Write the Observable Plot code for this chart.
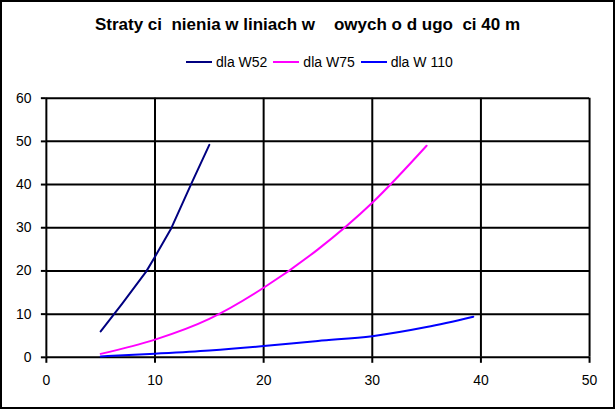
<!DOCTYPE html>
<html>
<head>
<meta charset="utf-8">
<script src="https://cdn.jsdelivr.net/npm/d3@7"></script>
<script src="https://cdn.jsdelivr.net/npm/@observablehq/plot@0.6"></script>
<style>
  html, body { margin: 0; padding: 0; background: #fff; }
  #wrap { position: relative; width: 615px; height: 409px; box-sizing: border-box; border: 2px solid #000; overflow: hidden; font-family: "Liberation Sans", Arial, sans-serif; }
  #chart { position: absolute; left: -2px; top: -2px; }
  #title { position: absolute; left: 0; top: 13px; width: 611px; text-align: center; font-weight: bold; font-size: 17px; white-space: pre; color: #000; }
  #legend { position: absolute; left: 184px; top: 52px; display: flex; align-items: center; font-size: 14px; white-space: pre; color: #000; }
  .sw { display: inline-block; width: 26px; height: 2px; margin-right: 4px; }
  .item { display: flex; align-items: center; margin-right: 6px; }
</style>
</head>
<body>
<div id="wrap">
  <div id="chart"></div>
  <div id="title"></div>
  <div id="legend"></div>
</div>
<script>
const title = "Straty ci\u00a0\u00a0nienia w liniach w\u00a0\u00a0\u00a0\u00a0owych o d ugo\u00a0\u00a0ci 40 m";
const seriesNames = ["dla W52", "dla W75", "dla W 110"];
const seriesColors = ["#000080", "#FF00FF", "#0000FF"];

const xW52 = [5, 7, 9.2, 10, 11.5, 13.4, 15];
const yW52 = [6, 12.5, 19.9, 23.3, 29.9, 40.5, 49.2];
const xW75 = [5, 10, 15, 20, 25, 30, 35];
const yW75 = [0.8, 4.1, 8.9, 16.1, 25, 35.8, 49];
const xW110 = [5, 10, 15, 20, 25, 30, 35, 39.3];
const yW110 = [0.2, 0.85, 1.6, 2.6, 3.8, 4.9, 7.0, 9.4];

const xTicks = [0, 10, 20, 30, 40, 50];
const yTicks = [0, 10, 20, 30, 40, 50, 60];

const mk = (xs, ys, s) => xs.map((x, i) => ({x, y: ys[i], s}));
const data = [
  ...mk(xW52, yW52, seriesNames[0]),
  ...mk(xW75, yW75, seriesNames[1]),
  ...mk(xW110, yW110, seriesNames[2])
];

document.getElementById("title").textContent = title;
const leg = document.getElementById("legend");
seriesNames.forEach((n, i) => {
  const it = document.createElement("span");
  it.className = "item";
  const sw = document.createElement("span");
  sw.className = "sw";
  sw.style.background = seriesColors[i];
  it.appendChild(sw);
  it.appendChild(document.createTextNode(n));
  leg.appendChild(it);
});

const chart = Plot.plot({
  width: 615,
  height: 409,
  marginLeft: 46,
  marginRight: 24,
  marginTop: 98,
  marginBottom: 51,
  style: { fontFamily: "'Liberation Sans', Arial, sans-serif", fontSize: "14px", color: "#000", background: "transparent" },
  x: { domain: [0, 50] },
  y: { domain: [0, 60] },
  color: { domain: seriesNames, range: seriesColors },
  marks: [
    Plot.ruleX(xTicks.filter(d => d > 0), { stroke: "#000", strokeWidth: 2 }),
    Plot.ruleY(yTicks.filter(d => d > 0), { stroke: "#000", strokeWidth: 2 }),
    Plot.ruleX([0], { stroke: "#000", strokeWidth: 2 }),
    Plot.ruleY([0], { stroke: "#000", strokeWidth: 2 }),
    Plot.axisX({ ticks: xTicks, tickSize: 6, tickPadding: 12, stroke: "#000", strokeWidth: 2, label: null, fontSize: 14 }),
    Plot.axisY({ ticks: yTicks, tickSize: 5, tickPadding: 10, stroke: "#000", strokeWidth: 2, label: null, fontSize: 14 }),
    Plot.line(data.filter(d => d.s === seriesNames[0]), { x: "x", y: "y", stroke: "s", strokeWidth: 2, curve: "linear" }),
    Plot.line(data.filter(d => d.s !== seriesNames[0]), { x: "x", y: "y", z: "s", stroke: "s", strokeWidth: 2, curve: "monotone-x" })
  ]
});
document.getElementById("chart").appendChild(chart);
</script>
</body>
</html>
